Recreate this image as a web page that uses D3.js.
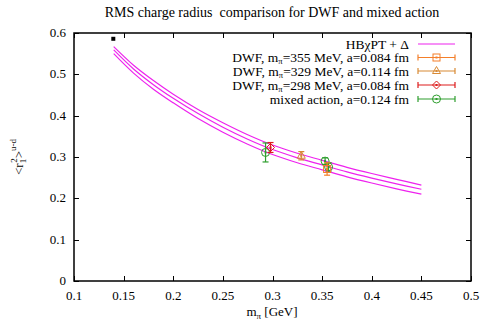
<!DOCTYPE html>
<html>
<head>
<meta charset="utf-8">
<script src="https://cdn.jsdelivr.net/npm/d3@7"></script>
<style>
  body { margin: 0; background: #fff; }
  svg text { font-family: "Liberation Serif", "DejaVu Serif", serif; fill: #000; }
</style>
</head>
<body>
<svg width="482" height="321"></svg>
<script>
// HBChPT + Delta band
var curveM = [0.14, 0.16, 0.18, 0.2, 0.225, 0.25, 0.275, 0.3, 0.325, 0.35, 0.375, 0.4, 0.425, 0.45];
var curveUp = [0.567, 0.522, 0.485, 0.452, 0.415, 0.383, 0.354, 0.329, 0.309, 0.292, 0.275, 0.260, 0.246, 0.232];
var curveMid = [0.559, 0.513, 0.475, 0.442, 0.405, 0.372, 0.343, 0.318, 0.298, 0.281, 0.264, 0.249, 0.235, 0.222];
var curveLow = [0.550, 0.503, 0.464, 0.431, 0.393, 0.360, 0.331, 0.306, 0.286, 0.269, 0.252, 0.237, 0.223, 0.210];

// lattice points: [m_pi, <r^2>, error]
var dwf355 = [[0.355, 0.271, 0.015]];
var dwf329 = [[0.329, 0.303, 0.010]];
var dwf298 = [[0.298, 0.323, 0.012]];
var mixed = [[0.293, 0.311, 0.023], [0.353, 0.290, 0.008], [0.3565, 0.276, 0.010]];
var physical = [[0.1396, 0.586]];

var seriesLabels = [["DWF, m", "\u03c0", "=355 MeV, a=0.084 fm"], ["DWF, m", "\u03c0", "=329 MeV, a=0.114 fm"],
                    ["DWF, m", "\u03c0", "=298 MeV, a=0.084 fm"], ["mixed action, a=0.124 fm"]];
var xTicks = [0.1, 0.15, 0.2, 0.25, 0.3, 0.35, 0.4, 0.45, 0.5];
var yTicks = [0, 0.1, 0.2, 0.3, 0.4, 0.5, 0.6];

var svg = d3.select("svg");
var pl = 74, pr = 471, pt = 33, pb = 281;

var x = d3.scaleLinear().domain([0.1, 0.5]).range([pl, pr]);
var y = d3.scaleLinear().domain([0, 0.6]).range([pb, pt]);

// title
svg.append("text")
  .attr("x", 272).attr("y", 17)
  .attr("text-anchor", "middle")
  .style("font-size", "14px")
  .text("RMS charge radius\u00a0 comparison for DWF and mixed action");

// ticks (inward, mirrored)
var tl = 5;
var g = svg.append("g").attr("stroke", "#000").attr("stroke-width", 1);
xTicks.forEach(function(t) {
  var px = Math.round(x(t)) + 0.5;
  g.append("line").attr("x1", px).attr("x2", px).attr("y1", pb).attr("y2", pb - tl);
  g.append("line").attr("x1", px).attr("x2", px).attr("y1", pt).attr("y2", pt + tl);
});
yTicks.forEach(function(t) {
  var py = Math.round(y(t)) + 0.5;
  g.append("line").attr("x1", pl).attr("x2", pl + tl).attr("y1", py).attr("y2", py);
  g.append("line").attr("x1", pr).attr("x2", pr - tl).attr("y1", py).attr("y2", py);
});

svg.append("g").selectAll("text")
  .data(xTicks).enter().append("text")
  .attr("x", function(d) { return x(d); })
  .attr("y", 300)
  .attr("text-anchor", "middle")
  .style("font-size", "13px")
  .text(function(d) { return d; });

svg.append("g").selectAll("text")
  .data(yTicks).enter().append("text")
  .attr("x", 66)
  .attr("y", function(d) { return y(d) + 4; })
  .attr("text-anchor", "end")
  .style("font-size", "13px")
  .text(function(d) { return d; });

// axis labels
var xl = svg.append("text").attr("x", 272).attr("y", 316).attr("text-anchor", "middle").style("font-size", "13px");
xl.append("tspan").text("m");
xl.append("tspan").attr("dy", 3).style("font-size", "9px").text("\u03c0");
xl.append("tspan").attr("dy", -3).text(" [GeV]");

var yl = svg.append("text").attr("transform", "translate(23,157) rotate(-90)")
  .attr("text-anchor", "middle").style("font-size", "13px");
yl.append("tspan").text("<r");
yl.append("tspan").attr("dy", 3).style("font-size", "9px").text("1");
yl.append("tspan").attr("dx", -4).attr("dy", -9).style("font-size", "9px").text("2");
yl.append("tspan").attr("dy", 6).text(">");
yl.append("tspan").attr("dy", -7).style("font-size", "9px").text("u-d");

// curves
svg.append("clipPath").attr("id", "clip").append("rect")
  .attr("x", pl).attr("y", pt).attr("width", pr - pl).attr("height", pb - pt);
var line = d3.line()
  .x(function(d) { return x(d[0]); })
  .y(function(d) { return y(d[1]); })
  .curve(d3.curveCatmullRom);
[curveUp, curveMid, curveLow].forEach(function(c) {
  svg.append("path")
    .datum(curveM.map(function(m, i) { return [m, c[i]]; }))
    .attr("d", line)
    .attr("fill", "none")
    .attr("stroke", "#ee22ee")
    .attr("stroke-width", 1.2)
    .attr("clip-path", "url(#clip)");
});

// markers
var colors = ["#f47f2a", "#d88a35", "#dd1c1c", "#2e9e2e"];
function marker(sel, kind, cx, cy, col) {
  var s = sel.append("g").attr("fill", "none").attr("stroke", col).attr("stroke-width", 1);
  if (kind === 0) s.append("rect").attr("x", cx - 3.5).attr("y", cy - 3.5).attr("width", 7).attr("height", 7);
  if (kind === 1) s.append("path").attr("d", "M" + cx + "," + (cy - 4.5) + "L" + (cx + 4) + "," + (cy + 2.5) + "L" + (cx - 4) + "," + (cy + 2.5) + "Z");
  if (kind === 2) s.append("path").attr("d", "M" + cx + "," + (cy - 4) + "L" + (cx + 4) + "," + cy + "L" + cx + "," + (cy + 4) + "L" + (cx - 4) + "," + cy + "Z");
  if (kind === 3) s.append("circle").attr("cx", cx).attr("cy", cy).attr("r", 4);
  s.append("rect").attr("x", cx - 0.5).attr("y", cy - 0.5).attr("width", 1).attr("height", 1).attr("fill", col);
}

var sets = [dwf355, dwf329, dwf298, mixed];
var plot = svg.append("g");
[3, 0, 1, 2].forEach(function(k) {
  sets[k].forEach(function(d) {
    var cx = x(d[0]), cy = y(d[1]);
    var e = plot.append("g").attr("stroke", colors[k]).attr("stroke-width", 1.2);
    e.append("line").attr("x1", cx).attr("x2", cx).attr("y1", y(d[1] + d[2])).attr("y2", y(d[1] - d[2]));
    e.append("line").attr("x1", cx - 3).attr("x2", cx + 3).attr("y1", y(d[1] + d[2])).attr("y2", y(d[1] + d[2]));
    e.append("line").attr("x1", cx - 3).attr("x2", cx + 3).attr("y1", y(d[1] - d[2])).attr("y2", y(d[1] - d[2]));
    marker(plot, k, cx, cy, colors[k]);
  });
});

// physical point
physical.forEach(function(d) {
  plot.append("rect").attr("x", x(d[0]) - 2).attr("y", y(d[1]) - 2).attr("width", 4).attr("height", 4).attr("fill", "#000");
});

// legend
var lx0 = 418, lx1 = 455, ltext = 409;
var rowY = [44, 57.5, 71, 85, 99];
var lg = svg.append("g");
lg.append("text").attr("x", ltext).attr("y", rowY[0] + 4.5).attr("text-anchor", "end").style("font-size", "13.5px")
  .text("HB\u03c7PT + \u0394");
lg.append("line").attr("x1", lx0).attr("x2", lx1).attr("y1", rowY[0]).attr("y2", rowY[0])
  .attr("stroke", "#ee22ee").attr("stroke-width", 1.2);
seriesLabels.forEach(function(parts, i) {
  var ry = rowY[i + 1];
  var t = lg.append("text").attr("x", ltext).attr("y", ry + 4.5).attr("text-anchor", "end").style("font-size", "13.5px");
  if (parts.length === 3) {
    t.append("tspan").text(parts[0]);
    t.append("tspan").attr("dy", 2).style("font-size", "8.5px").text(parts[1]);
    t.append("tspan").attr("dy", -2).text(parts[2]);
  } else {
    t.text(parts[0]);
  }
  var e = lg.append("g").attr("stroke", colors[i]).attr("stroke-width", 1.2);
  e.append("line").attr("x1", lx0).attr("x2", lx1).attr("y1", ry).attr("y2", ry);
  e.append("line").attr("x1", lx0).attr("x2", lx0).attr("y1", ry - 3).attr("y2", ry + 3);
  e.append("line").attr("x1", lx1).attr("x2", lx1).attr("y1", ry - 3).attr("y2", ry + 3);
  marker(lg, i, (lx0 + lx1) / 2, ry, colors[i]);
});

// border
svg.append("rect").attr("x", pl).attr("y", pt).attr("width", pr - pl).attr("height", pb - pt)
  .attr("fill", "none").attr("stroke", "#000").attr("stroke-width", 1.5);
</script>
</body>
</html>
